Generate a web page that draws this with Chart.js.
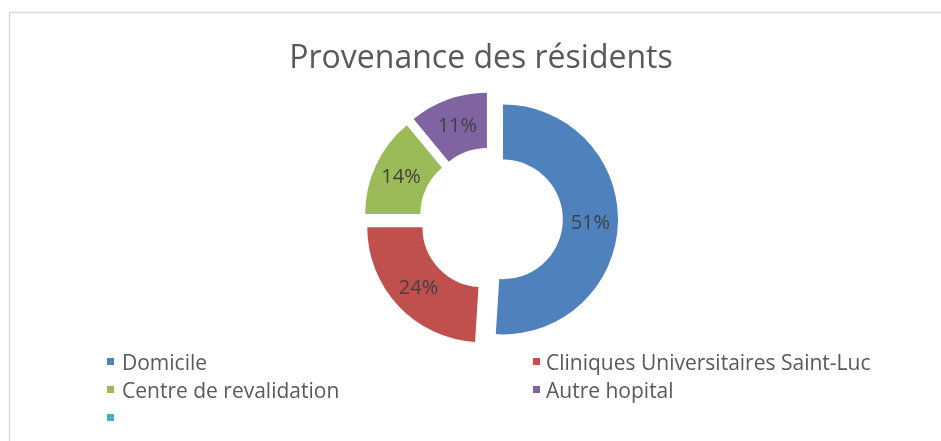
<!DOCTYPE html>
<html>
<head>
<meta charset="utf-8">
<title>Provenance des résidents</title>
<script src="https://cdn.jsdelivr.net/npm/chart.js@4.4.1/dist/chart.umd.min.js"></script>
<style>
    html, body { margin: 0; padding: 0; background: #fff; }
    #wrap { width: 941px; height: 441px; position: relative; }
</style>
</head>
<body>
<div id="wrap"><canvas id="canvas" width="941" height="441"></canvas></div>
<script>
var titleText = 'Provenance des résidents';
var categories = ['Domicile', 'Cliniques Universitaires Saint-Luc', 'Centre de revalidation', 'Autre hopital', ''];
var values = [51, 24, 14, 11, 0];
var colors = ['#4F81BD', '#C0504D', '#9BBB59', '#8064A2', '#4BACC6'];

var fontName = '"Open Sans", sans-serif';
var textColor = '#595959';
var explode = 12;   // px each slice is pulled out of the centre

function percentOf(v, total) {
    return Math.round(v / total * 100) + '%';
}

// light grey frame of the chart object
var framePlugin = {
    id: 'frame',
    beforeDraw: function(chart) {
        var ctx = chart.ctx;
        ctx.save();
        ctx.fillStyle = '#fff';
        ctx.fillRect(0, 0, chart.width, chart.height);
        ctx.strokeStyle = '#d9d9d9';
        ctx.lineWidth = 1.5;
        ctx.strokeRect(9.5, 12.5, chart.width + 40, chart.height + 40);
        ctx.restore();
    }
};

// pull every slice out along its middle angle (Excel style explosion)
var explodePlugin = {
    id: 'explode',
    afterDatasetUpdate: function(chart, args) {
        args.meta.data.forEach(function(arc) {
            var mid = (arc.startAngle + arc.endAngle) / 2;
            arc.x += Math.cos(mid) * explode;
            arc.y += Math.sin(mid) * explode;
        });
    }
};

var titlePlugin = {
    id: 'titleText',
    afterDraw: function(chart) {
        var ctx = chart.ctx;
        ctx.save();
        ctx.font = '32px ' + fontName;
        ctx.fillStyle = textColor;
        ctx.textAlign = 'center';
        ctx.textBaseline = 'alphabetic';
        ctx.fillText(titleText, 481, 68);
        ctx.restore();
    }
};

// percentage inside each slice
var labelPlugin = {
    id: 'sliceLabels',
    afterDatasetsDraw: function(chart) {
        var ctx = chart.ctx,
            meta = chart.getDatasetMeta(0),
            data = chart.data.datasets[0].data,
            total = data.reduce(function(a, b) { return a + b; }, 0);
        ctx.save();
        ctx.font = '20px ' + fontName;
        ctx.fillStyle = '#404040';
        ctx.textAlign = 'center';
        ctx.textBaseline = 'middle';
        meta.data.forEach(function(arc, i) {
            if (!data[i]) return;
            var p = arc.getCenterPoint();
            ctx.fillText(percentOf(data[i], total), p.x, p.y + 1);
        });
        ctx.restore();
    }
};

// two-column legend under the doughnut
var legendPlugin = {
    id: 'gridLegend',
    afterDraw: function(chart) {
        var ctx = chart.ctx,
            labels = chart.data.labels,
            bg = chart.data.datasets[0].backgroundColor,
            colX = [107, 533],
            textX = [122, 546],
            rowY = 370, rowStep = 28;
        ctx.save();
        ctx.font = '21px ' + fontName;
        ctx.textBaseline = 'alphabetic';
        ctx.textAlign = 'left';
        labels.forEach(function(lab, i) {
            var c = i % 2, r = Math.floor(i / 2),
                y = rowY + r * rowStep;
            ctx.fillStyle = bg[i];
            ctx.fillRect(colX[c], y - 12, 7, 7);
            ctx.fillStyle = textColor;
            ctx.fillText(lab, textX[c], y);
        });
        ctx.restore();
    }
};

var ctx = document.getElementById('canvas').getContext('2d');
var chart = new Chart(ctx, {
    type: 'doughnut',
    data: {
        labels: categories,
        datasets: [{
            data: values,
            backgroundColor: colors,
            borderWidth: 0,
            hoverOffset: 0
        }]
    },
    options: {
        responsive: false,
        animation: false,
        cutout: '52%',
        layout: {
            padding: { left: 61, right: 20, top: 104, bottom: 107 }
        },
        plugins: {
            legend: { display: false },
            title: { display: false },
            tooltip: { enabled: false }
        }
    },
    plugins: [framePlugin, explodePlugin, labelPlugin, titlePlugin, legendPlugin]
});
</script>
</body>
</html>
